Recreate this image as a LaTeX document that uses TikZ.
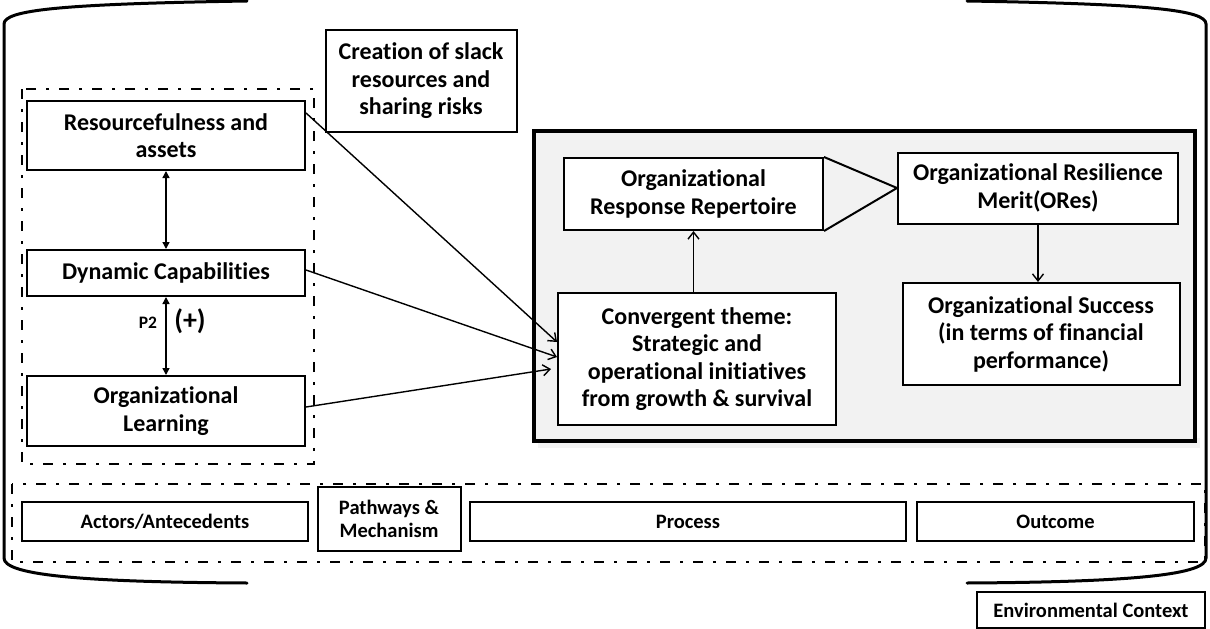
\documentclass[tikz,border=0pt]{standalone}
\usepackage{fontspec}
\setmainfont{Carlito}[Ligatures=NoCommon]
\usetikzlibrary{arrows.meta}

\begin{document}
\begin{tikzpicture}[x=1pt,y=-1pt,
  box/.style={draw, line width=2pt, fill=white, align=center, inner sep=2pt,
    font=\bfseries\fontsize{24}{27.5}\selectfont},
  smallbox/.style={box, font=\bfseries\fontsize{20.5}{23}\selectfont},
  dashdot/.style={draw, line width=2.2pt, dash pattern=on 10pt off 10pt on 3pt off 10pt},
  frame/.style={line width=3pt, line cap=round},
  link/.style={line width=1.4pt, -{Straight Barb[length=7pt,width=11pt]}},
  dlink/.style={line width=1.4pt, {Triangle[length=7pt,width=7pt]}-{Triangle[length=7pt,width=7pt]}}
]
\useasboundingbox (0,0) rectangle (1210,629);

% environmental frame made of two brackets
\draw[frame] (247,1) .. controls (60,4) and (4,10) .. (4,24) -- (4,558)
  .. controls (4,574) and (70,582) .. (247,583);
\draw[frame] (967,1) .. controls (1150,4) and (1206,10) .. (1206,24) -- (1206,558)
  .. controls (1206,574) and (1140,582) .. (967,583);

% dash-dot groupings
\draw[dashdot] (22,89) rectangle (314,464);
\draw[dashdot] (12,484) rectangle (1205,562);

% process panel
\fill[black!8, opacity=0.6] (538,438) rectangle (1200,448);
\filldraw[fill=black!5, line width=3.5pt] (534,131) rectangle (1195,441);

% antecedent boxes
\node[box, minimum width=278pt, minimum height=69pt] (res) at (166,135.5) {Resourcefulness and\\assets};
\node[box, minimum width=278pt, minimum height=46pt] (dyn) at (166,273) {Dynamic Capabilities};
\node[box, minimum width=278pt, minimum height=70pt] (learn) at (166,411) {Organizational\\Learning};

\node[box, minimum width=191pt, minimum height=102pt] (slack) at (421,81) {Creation of slack\\resources and\\sharing risks};

% process and outcome boxes
\node[box, minimum width=259pt, minimum height=72pt] (rep) at (693.5,194) {Organizational\\Response Repertoire};
\node[box, minimum width=280pt, minimum height=71pt] (merit) at (1038,188) {Organizational Resilience\\Merit(ORes)};
\node[box, minimum width=277pt, minimum height=102pt] (succ) at (1041,334) {Organizational Success\\(in terms of financial\\performance)};
\node[box, minimum width=278pt, minimum height=132pt] (conv) at (697,359) {Convergent theme:\\Strategic and\\operational initiatives\\from growth \& survival};

% wedge linking repertoire to merit
\draw[line width=2pt, line join=miter] (rep.north east) -- (merit.west) -- (rep.south east);

% links
\draw[dlink] (res.south) -- (dyn.north);
\draw[dlink] (dyn.south) -- (learn.north);
\node[font=\bfseries\fontsize{17.5}{20}\selectfont] (p2) at (148,323) {P2};
\node[font=\bfseries\fontsize{28}{30}\selectfont] (plus) at (190,321) {(+)};

\coordinate (ra) at (res.east |- 0,113);
\coordinate (da) at (dyn.east |- 0,270);
\coordinate (la) at (learn.east |- 0,407);
\draw[link] (ra) -- (conv.west |- 0,342);
\draw[link] (da) -- (conv.west |- 0,357);
\draw[link] (la) -- ([xshift=-6pt]conv.west |- 0,369);
\draw[link] (conv.north -| rep.south) -- (rep.south);
\draw[link] (merit.south) -- (merit.south |- succ.north);

% stage labels
\node[smallbox, minimum width=286pt, minimum height=39pt] (act) at (165,521.5) {Actors/Antecedents};
\node[smallbox, minimum width=143pt, minimum height=64pt] (path) at (389,519) {Pathways \&\\Mechanism};
\node[smallbox, minimum width=436pt, minimum height=39pt] (proc) at (688,521.5) {Process};
\node[smallbox, minimum width=277pt, minimum height=39pt] (out) at (1055.5,521.5) {Outcome};
\node[smallbox, minimum width=228pt, minimum height=36pt] (env) at (1091,610) {Environmental Context};
\end{tikzpicture}
\end{document}
